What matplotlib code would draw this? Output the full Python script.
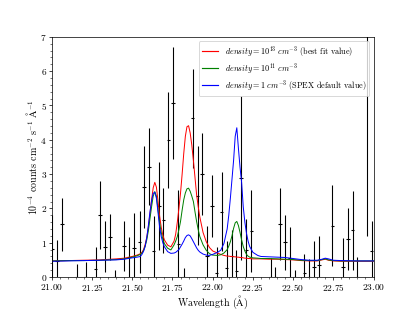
import numpy as np
import matplotlib
matplotlib.use("Agg")
import matplotlib.pyplot as plt

# Computer Modern look (no LaTeX available)
plt.rcParams['font.family'] = 'serif'
plt.rcParams['font.serif'] = ['cmr10', 'DejaVu Serif']
plt.rcParams['mathtext.fontset'] = 'cm'
plt.rcParams['axes.formatter.use_mathtext'] = True

wave = [21.000, 21.033, 21.064, 21.154, 21.212, 21.272, 21.300, 21.332, 21.363,
        21.394, 21.450, 21.480, 21.510, 21.545, 21.572, 21.604, 21.632, 21.667,
        21.694, 21.725, 21.754, 21.787, 21.820, 21.875, 21.906, 21.935, 21.964,
        21.995, 22.024, 22.055, 22.086, 22.118, 22.148, 22.177, 22.210, 22.240,
        22.360, 22.390, 22.420, 22.450, 22.478, 22.510, 22.570, 22.600, 22.630,
        22.660, 22.745, 22.810, 22.840, 22.870, 22.900, 22.960, 22.988]
flux = [0.81, 0.48, 1.54, 0.00, 0.00, 0.23, 1.81, 0.89, 1.17,
        0.00, 0.91, 0.58, 0.86, 1.02, 2.63, 3.22, 0.77, 2.07,
        1.65, 3.99, 5.06, 0.95, 0.00, 4.62, 2.37, 3.00, 0.60,
        2.07, 0.12, 1.91, 0.26, 0.60, 0.18, 2.89, 0.79, 1.35,
        0.00, 0.00, 1.55, 1.01, 0.55, 0.00, 0.13, 0.00, 0.29,
        0.34, 1.49, 0.28, 1.10, 1.37, 0.00, 7.60, 0.75]
flux_err = [1.00, 0.60, 0.77, 0.39, 0.45, 0.66, 1.00, 0.73, 0.67,
            0.21, 0.72, 0.58, 1.02, 0.90, 1.20, 1.12, 1.00, 1.27,
            0.95, 1.40, 1.63, 1.60, 0.26, 1.45, 1.45, 1.20, 0.88,
            0.90, 0.75, 1.15, 0.80, 0.78, 0.60, 2.38, 0.90, 1.20,
            0.55, 0.29, 1.05, 0.80, 0.92, 0.21, 0.55, 0.53, 0.76,
            0.86, 1.18, 0.85, 0.90, 1.15, 0.58, 6.40, 0.87]

# ---- model curves ----
model_x = [21.00, 21.10, 21.20, 21.30, 21.40, 21.45, 21.50, 21.53, 21.55, 21.56,
           21.57, 21.58, 21.59, 21.60, 21.61, 21.62, 21.63, 21.64, 21.65, 21.66,
           21.67, 21.68, 21.69, 21.70, 21.72, 21.74, 21.76, 21.77, 21.78, 21.79,
           21.80, 21.81, 21.82, 21.83, 21.84, 21.85, 21.86, 21.87, 21.88, 21.89,
           21.90, 21.91, 21.92, 21.94, 21.96, 21.98, 22.00, 22.03, 22.05, 22.07,
           22.09, 22.10, 22.11, 22.12, 22.13, 22.14, 22.15, 22.16, 22.17, 22.18,
           22.19, 22.20, 22.21, 22.22, 22.23, 22.25, 22.28, 22.30, 22.35, 22.40,
           22.45, 22.50, 22.55, 22.60, 22.65, 22.68, 22.70, 22.72, 22.75, 22.80,
           22.90, 23.00]
red = [0.47, 0.48, 0.49, 0.50, 0.53, 0.55, 0.60, 0.64, 0.68, 0.72,
       0.80, 0.95, 1.15, 1.45, 1.85, 2.25, 2.60, 2.76, 2.62, 2.22,
       1.78, 1.45, 1.22, 1.08, 0.93, 0.88, 1.05, 1.25, 1.60, 2.00,
       2.45, 3.00, 3.60, 4.10, 4.38, 4.41, 4.20, 3.85, 3.40, 2.90,
       2.40, 2.05, 1.75, 1.30, 1.03, 0.86, 0.76, 0.70, 0.66, 0.63,
       0.61, 0.61, 0.60, 0.60, 0.59, 0.59, 0.58, 0.58, 0.57, 0.57,
       0.56, 0.55, 0.55, 0.54, 0.54, 0.53, 0.53, 0.53, 0.52, 0.52,
       0.51, 0.50, 0.48, 0.47, 0.47, 0.50, 0.52, 0.49, 0.47, 0.46,
       0.46, 0.46]
green = [0.47, 0.48, 0.48, 0.49, 0.51, 0.53, 0.58, 0.62, 0.66, 0.70,
         0.77, 0.90, 1.08, 1.35, 1.70, 2.05, 2.36, 2.49, 2.36, 1.98,
         1.58, 1.30, 1.10, 0.97, 0.84, 0.79, 0.94, 1.05, 1.18, 1.38,
         1.62, 1.95, 2.25, 2.45, 2.57, 2.59, 2.50, 2.36, 2.20, 1.90,
         1.62, 1.38, 1.18, 0.94, 0.78, 0.68, 0.64, 0.63, 0.65, 0.70,
         0.80, 0.90, 1.03, 1.20, 1.42, 1.58, 1.62, 1.50, 1.30, 1.08,
         0.89, 0.76, 0.66, 0.61, 0.58, 0.56, 0.55, 0.54, 0.54, 0.53,
         0.52, 0.51, 0.49, 0.48, 0.48, 0.51, 0.53, 0.50, 0.48, 0.47,
         0.47, 0.47]
blue = [0.46, 0.47, 0.48, 0.49, 0.50, 0.52, 0.56, 0.58, 0.60, 0.66,
        0.75, 0.89, 1.15, 1.50, 1.90, 2.22, 2.44, 2.47, 2.30, 1.88,
        1.45, 1.18, 1.00, 0.88, 0.74, 0.69, 0.70, 0.72, 0.76, 0.80,
        0.88, 0.96, 1.05, 1.15, 1.21, 1.23, 1.20, 1.12, 1.03, 0.94,
        0.85, 0.78, 0.73, 0.67, 0.64, 0.63, 0.66, 0.72, 0.78, 0.98,
        1.40, 1.80, 2.30, 2.85, 3.40, 4.10, 4.35, 3.75, 3.20, 2.75,
        2.05, 1.60, 1.28, 1.05, 0.89, 0.72, 0.63, 0.60, 0.59, 0.58,
        0.57, 0.54, 0.51, 0.49, 0.49, 0.52, 0.55, 0.53, 0.49, 0.48,
        0.47, 0.47]

labels = [r'$density = 10^{13}\ cm^{-3}$ (best fit value)',
          r'$density = 10^{11}\ cm^{-3}$',
          r'$density = 1\ cm^{-3}$ (SPEX default value)']

fig, ax = plt.subplots(figsize=(415 / 65, 312 / 65), dpi=65)
fig.subplots_adjust(left=0.125, right=0.9, bottom=0.112, top=0.882)

ax.errorbar(wave, flux, yerr=flux_err, xerr=0.011, fmt='none',
            ecolor='black', elinewidth=1.2)
ax.plot(model_x, red, color='#ff0000', lw=1.1, label=labels[0])
ax.plot(model_x, green, color='#008000', lw=1.1, label=labels[1])
ax.plot(model_x, blue, color='#0000ff', lw=1.1, label=labels[2])

ax.set_xlim(21.0, 23.0)
ax.set_ylim(0, 7)
ax.set_xticks(np.arange(21.0, 23.01, 0.25))
ax.minorticks_on()
ax.tick_params(which='major', labelsize=10.5, pad=2)
ax.set_xlabel(r'Wavelength ($\mathrm{\AA}$)', fontsize=11, labelpad=1)
ax.set_ylabel(r'$10^{-4}$ counts cm$^{-2}$ s$^{-1}$ $\mathrm{\AA}^{-1}$',
              fontsize=11, labelpad=1)
leg = ax.legend(loc='upper right', fontsize=9, labelspacing=0.25,
                handlelength=2.0, borderpad=0.4)
for h in leg.get_lines():
    h.set_linewidth(1.3)

plt.savefig('out.png', dpi=65)
